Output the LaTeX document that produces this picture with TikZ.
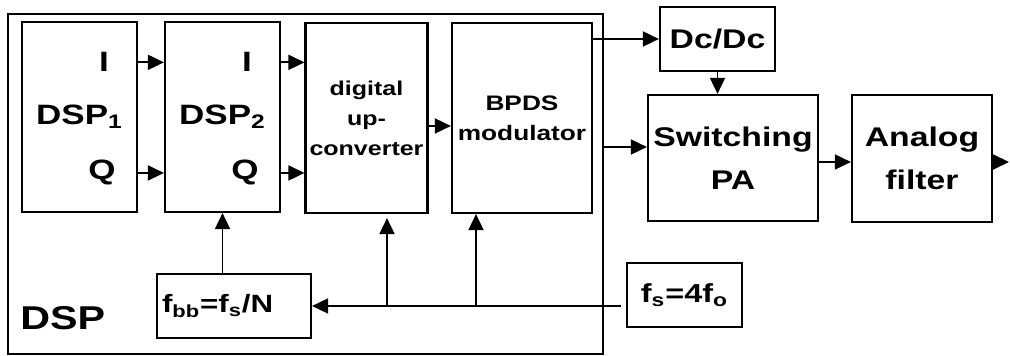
\documentclass[tikz,border=0pt]{standalone}
\usepackage{fontspec}
\setmainfont{Liberation Sans}[FakeStretch=1.25]
\usetikzlibrary{arrows.meta}

\newcommand{\fsz}[1]{\fontsize{#1}{#1}\selectfont\bfseries}

\begin{document}
\begin{tikzpicture}[x=0.5pt, y=-0.5pt,
    block/.style={rectangle, draw, line width=1.1pt, inner sep=2pt, align=center},
    dspblock/.style={block, minimum width=57.5pt, minimum height=95pt, font=\fsz{14}},
    outblock/.style={block, font=\fontsize{13.5}{21.5}\selectfont\bfseries},
    clkblock/.style={block, minimum height=32pt},
    sig/.style={font=\fsz{14}, inner sep=0pt},
    arrow/.style={line width=0.9pt, -{Triangle[length=8pt, width=7.5pt]}}
]
\useasboundingbox (0,0) rectangle (1010,356);

% DSP frame
\node[block, minimum width=297.5pt, minimum height=170pt] (dsp) at (305.5,184) {};
\node[anchor=base west, font=\fsz{16.5}, inner sep=0pt] (dsplbl) at (20,330) {DSP};

% DSP chain
\node[dspblock] (dspA) at (79.5,117) {DSP\textsubscript{1}};
\node[dspblock] (dspB) at (222.5,117) {DSP\textsubscript{2}};
\node[dspblock, font=\fontsize{10}{15}\selectfont\bfseries] (upc) at (366.5,118) {digital\\up-\\converter};
\node[dspblock, minimum width=70pt, font=\fontsize{10.5}{15}\selectfont\bfseries] (bpds) at (522,118) {BPDS\\modulator};

% I/Q labels
\node[sig, anchor=base] (iA) at (104,72) {I};
\node[sig, anchor=base] (qA) at (102,180) {Q};
\node[sig, anchor=base] (iB) at (247,72) {I};
\node[sig, anchor=base] (qB) at (245,180) {Q};

% Power stage
\node[block, minimum width=57.5pt, minimum height=32pt, font=\fsz{13.5}] (dcdc) at (717.5,39) {Dc/Dc};
\node[outblock, minimum width=85pt, minimum height=63pt] (pa) at (733,158) {Switching\\PA};
\node[outblock, minimum width=70pt, minimum height=63.5pt] (filt) at (922,158.5) {Analog\\filter};
\coordinate (out) at (1009,162);
\coordinate (paIn) at ([yshift=5.5pt]pa.west);

% Clocks
\node[clkblock, minimum width=77pt, text width=72pt, align=left, font=\fsz{12.5}] (fbb) at (234,306) {f\textsubscript{bb}=f\textsubscript{s}/N};
\node[clkblock, minimum width=57.5pt, font=\fsz{13}] (fs) at (684.5,295) {f\textsubscript{s}=4f\textsubscript{o}};
\coordinate (tapU) at (387,306);
\coordinate (tapB) at (476,306);

% Signal flow
\draw[arrow] (dspA.east |- iA) -- (dspB.west |- iA);
\draw[arrow] (dspA.east |- qA) -- (dspB.west |- qA);
\draw[arrow] (dspB.east |- iB) -- (upc.west |- iB);
\draw[arrow] (dspB.east |- qB) -- (upc.west |- qB);
\draw[arrow] ([yshift=-4pt]upc.east) -- ([yshift=-4pt]bpds.west);
\draw[arrow] (bpds.east |- dcdc) -- (dcdc.west);
\draw[arrow] (dsp.east |- paIn) -- (paIn);
\draw[arrow] (dcdc.south) -- (dcdc.south |- pa.north);
\draw[arrow] (pa.east |- out) -- (filt.west |- out);
\draw[arrow] (filt.east |- out) -- (out);

% Clock distribution
\draw[arrow, shorten <=2.5pt] (fs.west |- fbb) -- (fbb.east);
\draw[arrow, shorten >=2pt] (tapU) -- (tapU |- upc.south);
\draw[arrow] (tapB) -- (tapB |- bpds.south);
\draw[arrow] (dspB.south |- fbb.north) -- (dspB.south);

\end{tikzpicture}
\end{document}
